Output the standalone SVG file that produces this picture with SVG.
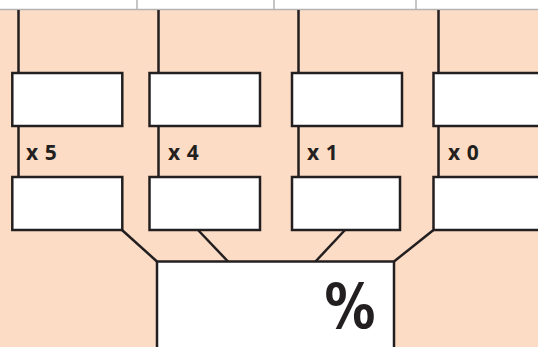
<svg xmlns="http://www.w3.org/2000/svg" width="538" height="347" viewBox="0 0 538 347">
<style>
.box{fill:#fff;stroke:#231f20;stroke-width:2.5}
.ln{stroke:#231f20;stroke-width:2.5;fill:none}
.grid{stroke:#b3b3b3;stroke-width:1.5;fill:none}
.lbl{font-family:"Open Sans","Liberation Sans",Arial,sans-serif;font-weight:bold;font-size:21px;letter-spacing:0.6px;fill:#231f20}
.pct{font-family:"DejaVu Sans","Liberation Sans",sans-serif;font-weight:bold;font-size:62px;fill:#231f20}
</style>
<rect x="0" y="0" width="538" height="347" fill="#fcdcc5"/>
<rect x="0" y="0" width="538" height="10" fill="#fff"/>
<g id="grid">
<line class="grid" x1="0" y1="9.5" x2="538" y2="9.5"/>
<line class="grid" x1="137" y1="0" x2="137" y2="10"/>
<line class="grid" x1="274" y1="0" x2="274" y2="10"/>
<line class="grid" x1="416" y1="0" x2="416" y2="10"/>
</g>
<g id="connectors">
<line class="ln" x1="18.5" y1="10" x2="18.5" y2="177"/>
<line class="ln" x1="158.5" y1="10" x2="158.5" y2="177"/>
<line class="ln" x1="298.5" y1="10" x2="298.5" y2="177"/>
<line class="ln" x1="438.5" y1="10" x2="438.5" y2="177"/>
<line class="ln" x1="122" y1="230" x2="157" y2="261.5"/>
<line class="ln" x1="198" y1="230" x2="228" y2="261.5"/>
<line class="ln" x1="345" y1="230" x2="315.5" y2="261.5"/>
<line class="ln" x1="433.5" y1="230" x2="394" y2="261.5"/>
</g>
<g id="top1"><rect class="box" x="12.3" y="73" width="110" height="53"/></g>
<g id="top2"><rect class="box" x="149.5" y="73" width="110.5" height="53"/></g>
<g id="top3"><rect class="box" x="292" y="73" width="110" height="53"/></g>
<g id="top4"><rect class="box" x="433.5" y="73" width="120" height="53"/></g>
<g id="lbl1"><text class="lbl" x="26" y="160">x 5</text></g>
<g id="lbl2"><text class="lbl" x="168" y="160">x 4</text></g>
<g id="lbl3"><text class="lbl" x="307" y="160">x 1</text></g>
<g id="lbl4"><text class="lbl" x="448" y="160">x 0</text></g>
<g id="bot1"><rect class="box" x="12.3" y="177" width="110" height="53"/></g>
<g id="bot2"><rect class="box" x="149.5" y="177" width="110.5" height="53"/></g>
<g id="bot3"><rect class="box" x="292" y="177" width="108" height="53"/></g>
<g id="bot4"><rect class="box" x="433.5" y="177" width="120" height="53"/></g>
<g id="pctbox">
<rect class="box" x="157" y="261.5" width="237" height="100"/>
<text class="pct" transform="translate(350,328) scale(0.82,1)" text-anchor="middle">%</text>
</g>
</svg>
